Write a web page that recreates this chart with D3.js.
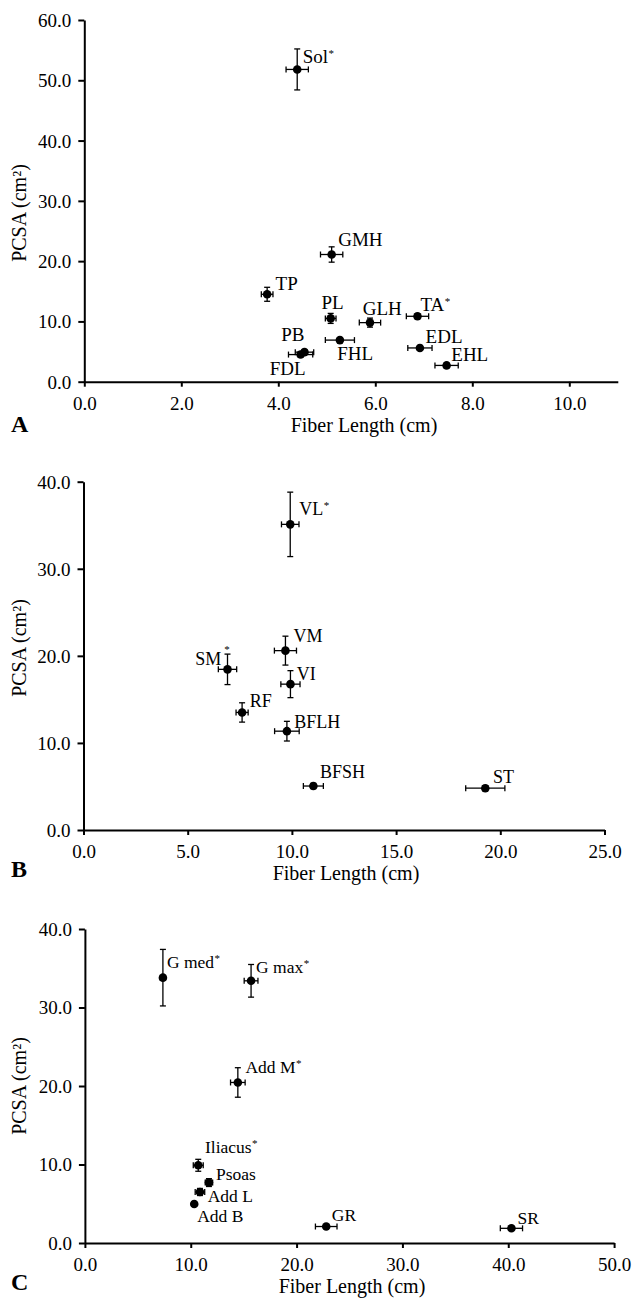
<!DOCTYPE html>
<html lang="en">
<head>
    <meta charset="UTF-8">
    <title>PCSA vs Fiber Length</title>
    <style>
        body, html {
          margin: 0;
          background: #fff;
        }

        svg text {
            font-family: "Liberation Serif", "Times New Roman", serif;
            fill: #000;
        }

        .axis path, .axis line {
            stroke: #000;
            stroke-width: 2px;
        }

        .axis text {
            font-size: 19px;
        }

        .err line {
            stroke: #000;
            stroke-width: 1.3px;
        }
    </style>
</head>
<body>
    <svg width="634" height="1299"></svg>

    <script src="https://cdnjs.cloudflare.com/ajax/libs/d3/7.8.5/d3.min.js"></script>
    <script>

        // --- panel A: leg muscles ---
        const musclesA = ["Sol", "GMH", "TP", "PL", "GLH", "TA", "FHL", "PB", "FDL", "EDL", "EHL"];
        const fiberA   = [4.39, 5.10, 3.77, 5.08, 5.89, 6.87, 5.27, 4.54, 4.46, 6.92, 7.47];
        const fiberSdA = [0.23, 0.23, 0.12, 0.11, 0.22, 0.23, 0.30, 0.19, 0.25, 0.25, 0.24];
        const pcsaA    = [51.8, 21.1, 14.5, 10.5, 9.8, 10.85, 6.9, 4.9, 4.5, 5.6, 2.7];
        const pcsaSdA  = [3.4, 1.27, 1.16, 0.83, 0.75, 0.4, 0.4, 0.4, 0.4, 0.4, 0.4];
        const starA    = ["Sol", "TA"];
        const xTicksA  = [0, 2, 4, 6, 8, 10];
        const yTicksA  = [0, 10, 20, 30, 40, 50, 60];

        // --- panel B: thigh muscles ---
        const musclesB = ["VL", "VM", "SM", "VI", "RF", "BFLH", "BFSH", "ST"];
        const fiberB   = [9.92, 9.69, 6.91, 9.93, 7.61, 9.76, 11.03, 19.28];
        const fiberSdB = [0.42, 0.53, 0.44, 0.46, 0.29, 0.59, 0.48, 0.94];
        const pcsaB    = [35.1, 20.6, 18.45, 16.75, 13.5, 11.35, 5.05, 4.8];
        const pcsaSdB  = [3.7, 1.66, 1.75, 1.55, 1.11, 1.13, 0.3, 0.3];
        const starB    = ["VL", "SM"];
        const xTicksB  = [0, 5, 10, 15, 20, 25];
        const yTicksB  = [0, 10, 20, 30, 40];

        // --- panel C: hip muscles ---
        const musclesC = ["G med", "G max", "Add M", "Iliacus", "Psoas", "Add L", "Add B", "GR", "SR"];
        const fiberC   = [7.37, 15.70, 14.45, 10.71, 11.72, 10.87, 10.33, 22.8, 40.3];
        const fiberSdC = [0.25, 0.65, 0.69, 0.47, 0.35, 0.45, 0.2, 1.02, 1.05];
        const pcsaC    = [33.8, 33.4, 20.45, 9.9, 7.7, 6.5, 4.96, 2.1, 1.87];
        const pcsaSdC  = [3.6, 2.08, 1.88, 0.76, 0.5, 0.45, 0.25, 0.25, 0.25];
        const starC    = ["G med", "G max", "Add M", "Iliacus"];
        const xTicksC  = [0, 10, 20, 30, 40, 50];
        const yTicksC  = [0, 10, 20, 30, 40];

        const xTitle = "Fiber Length (cm)";
        const yTitle = "PCSA (cm²)";

        // label placement relative to the point (px)
        const labelPos = {
            "Sol":  [5.5, -6], "GMH": [6.6, -8.6], "TP": [8.4, -4.3], "PL": [1.8, -9.3, "middle"],
            "GLH":  [-7.3, -7.7], "TA": [3, -5.3], "FHL": [-2.7, 20], "PB": [0, -11, "end"],
            "FDL":  [5, 20.7, "end"], "EDL": [5.7, -5.4], "EHL": [4.7, -4],
            "VL":   [9, -9.3], "VM": [8, -9], "SM": [2.2, -4.3, "end"], "VI": [6.4, -4],
            "RF":   [7.7, -5.6], "BFLH": [7.3, -3.3], "BFSH": [6.7, -7.7], "ST": [7.6, -5.6],
            "G med": [4, -9.4], "G max": [5, -7.7], "Add M": [7.6, -9], "Iliacus": [6.7, -12],
            "Psoas": [7, -2.7], "Add L": [7.7, 9.7], "Add B": [3, 17.7], "GR": [5.6, -6], "SR": [6, -4.3]
        };

        const svg = d3.select("svg");
        const fmt = d3.format(".1f");

        function drawPanel(p) {
            const x = d3.scaleLinear().domain(p.xDomain).range([p.left, p.right]);
            const y = d3.scaleLinear().domain(p.yDomain).range([p.bottom, p.top]);
            const g = svg.append("g");

            const xAxis = g.append("g")
                .attr("class", "axis")
                .attr("transform", `translate(0,${p.bottom})`)
                .call(d3.axisBottom(x).tickValues(p.xTicks).tickFormat(fmt).tickSize(5).tickSizeOuter(0));
            xAxis.selectAll("text").attr("y", 28).attr("dy", 0);

            const yAxis = g.append("g")
                .attr("class", "axis")
                .attr("transform", `translate(${p.left},0)`)
                .call(d3.axisLeft(y).tickValues(p.yTicks).tickFormat(fmt).tickSize(6).tickSizeOuter(0));
            yAxis.selectAll("text").attr("x", -13).attr("dy", "0.34em");
            g.selectAll(".axis .domain").attr("fill", "none");

            // titles
            g.append("text")
                .attr("x", p.xTitleX)
                .attr("y", p.bottom + 50)
                .attr("text-anchor", "middle")
                .style("font-size", "20px")
                .text(xTitle);

            g.append("text")
                .attr("transform", `translate(26,${p.yTitleY}) rotate(-90)`)
                .attr("text-anchor", "middle")
                .style("font-size", "20px")
                .text(yTitle);

            g.append("text")
                .attr("x", 11)
                .attr("y", p.bottom + p.letterDy)
                .style("font-size", "24px")
                .style("font-weight", "bold")
                .text(p.letter);

            const pts = p.names.map((n, i) => ({
                name: n, f: p.fiber[i], fs: p.fiberSd[i], a: p.pcsa[i], as: p.pcsaSd[i]
            }));

            // error bars
            const cap = 3;
            const err = g.append("g").attr("class", "err")
                .selectAll("g").data(pts).enter().append("g");

            err.append("line")
                .attr("x1", d => x(d.f - d.fs)).attr("x2", d => x(d.f + d.fs))
                .attr("y1", d => y(d.a)).attr("y2", d => y(d.a));
            err.append("line")
                .attr("x1", d => x(d.f - d.fs)).attr("x2", d => x(d.f - d.fs))
                .attr("y1", d => y(d.a) - cap).attr("y2", d => y(d.a) + cap);
            err.append("line")
                .attr("x1", d => x(d.f + d.fs)).attr("x2", d => x(d.f + d.fs))
                .attr("y1", d => y(d.a) - cap).attr("y2", d => y(d.a) + cap);

            err.append("line")
                .attr("x1", d => x(d.f)).attr("x2", d => x(d.f))
                .attr("y1", d => y(d.a - d.as)).attr("y2", d => y(d.a + d.as));
            err.append("line")
                .attr("x1", d => x(d.f) - cap).attr("x2", d => x(d.f) + cap)
                .attr("y1", d => y(d.a - d.as)).attr("y2", d => y(d.a - d.as));
            err.append("line")
                .attr("x1", d => x(d.f) - cap).attr("x2", d => x(d.f) + cap)
                .attr("y1", d => y(d.a + d.as)).attr("y2", d => y(d.a + d.as));

            // points
            g.append("g").selectAll("circle")
                .data(pts).enter().append("circle")
                .attr("cx", d => x(d.f))
                .attr("cy", d => y(d.a))
                .attr("r", 4.3)
                .attr("fill", "#000");

            // labels
            const lab = g.append("g").selectAll("text")
                .data(pts).enter().append("text")
                .attr("x", d => x(d.f) + labelPos[d.name][0])
                .attr("y", d => y(d.a) + labelPos[d.name][1])
                .attr("text-anchor", d => labelPos[d.name][2] || "start")
                .style("font-size", p.labelSize + "px")
                .text(d => d.name);

            lab.filter(d => p.stars.includes(d.name))
                .append("tspan")
                .attr("dx", d => d.name === "SM" ? 3 : 0.5)
                .attr("dy", d => d.name === "SM" ? -12 : -6)
                .style("font-size", "11px")
                .text("*");
        }

        drawPanel({
            letter: "A", letterDy: 50,
            names: musclesA, fiber: fiberA, fiberSd: fiberSdA, pcsa: pcsaA, pcsaSd: pcsaSdA, stars: starA,
            xDomain: [0, 11], yDomain: [0, 60], xTicks: xTicksA, yTicks: yTicksA,
            left: 84.3, right: 617.8, top: 20, bottom: 381.7,
            xTitleX: 364, yTitleY: 213, labelSize: 19
        });

        drawPanel({
            letter: "B", letterDy: 46.7,
            names: musclesB, fiber: fiberB, fiberSd: fiberSdB, pcsa: pcsaB, pcsaSd: pcsaSdB, stars: starB,
            xDomain: [0, 25], yDomain: [0, 40], xTicks: xTicksB, yTicks: yTicksB,
            left: 83.5, right: 604.5, top: 481.7, bottom: 830,
            xTitleX: 346, yTitleY: 648, labelSize: 18
        });

        drawPanel({
            letter: "C", letterDy: 47,
            names: musclesC, fiber: fiberC, fiberSd: fiberSdC, pcsa: pcsaC, pcsaSd: pcsaSdC, stars: starC,
            xDomain: [0, 50], yDomain: [0, 40], xTicks: xTicksC, yTicks: yTicksC,
            left: 84.9, right: 614.1, top: 929, bottom: 1243,
            xTitleX: 352, yTitleY: 1086, labelSize: 17.5
        });

    </script>
</body>
</html>
